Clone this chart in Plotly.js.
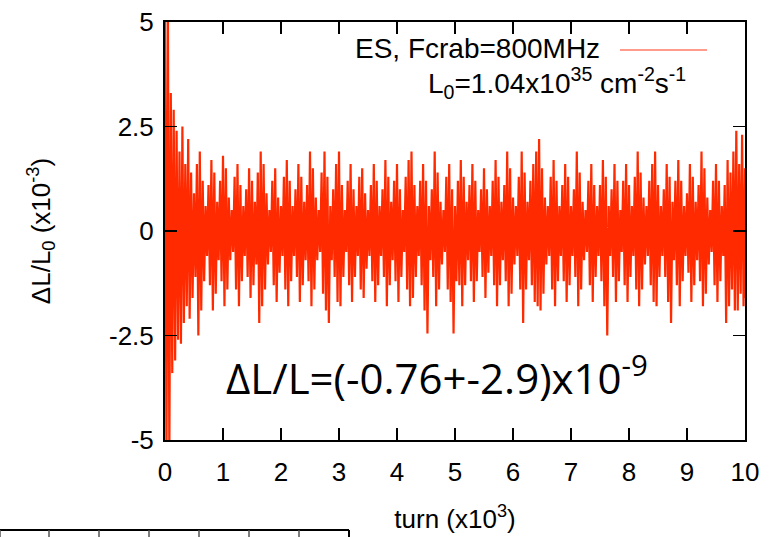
<!DOCTYPE html>
<html>
<head>
<meta charset="utf-8">
<script src="https://cdn.plot.ly/plotly-3.0.1.min.js"></script>
<style>html,body{margin:0;padding:0;background:#fff;}#chart{width:770px;height:537px;}</style>
</head>
<body>
<div id="chart"></div>
<script>
// turn index step (x10^3 turns)
const turnStep = 0.05;
// upper excursion of dL/L0 (x10^-3) in each 50-turn bin
const upperEnvelope = [
 5.6, 5.3, 3.3, 2.9, 2.4, 1.9, 2.5, 1.6, 2.2, 1.4,
 0.9, 1.6, 1.9, 1.2, 0.6, 1.1, 1.7, 1.4, 0.7, 1.2,
 1.8, 1.5, 0.8, 0.5, 1.3, 1.6, 1.1, 0.6, 1.0, 1.5,
 1.2, 0.7, 1.4, 1.9, 1.6, 0.9, 0.5, 1.2, 1.5, 0.8,
 0.6, 1.3, 1.7, 1.2, 0.6, 1.0, 1.6, 1.3, 0.7, 1.1,
 1.9, 1.5, 0.8, 0.5, 1.4, 1.9, 1.3, 0.6, 1.0, 1.6,
 1.9, 1.1, 0.5, 1.2, 1.6, 1.0, 0.6, 1.3, 1.5, 0.9,
 0.5, 1.1, 1.6, 1.2, 0.6, 1.0, 1.7, 1.3, 0.7, 1.2,
 1.6, 1.0, 0.5, 1.3, 1.7, 1.9, 1.1, 0.6, 1.2, 1.6,
 1.2, 0.6, 1.0, 1.9, 1.4, 0.7, 0.5, 1.3, 1.6, 1.0,
 0.6, 1.2, 1.7, 1.3, 0.7, 1.1, 1.6, 1.2, 0.5, 1.0,
 1.5, 1.0, 0.6, 1.2, 1.7, 1.3, 0.7, 1.1, 1.9, 1.5,
 0.8, 0.6, 1.3, 1.9, 1.4, 0.7, 1.2, 1.6, 1.9, 2.2,
 1.5, 0.8, 0.6, 1.3, 1.7, 1.2, 0.6, 1.1, 1.6, 1.3,
 0.6, 1.0, 1.9, 1.4, 0.7, 0.5, 1.2, 1.6, 1.1, 0.6,
 1.1, 1.7, 1.3, 0.6, 1.0, 1.6, 1.2, 0.5, 1.2, 1.6,
 1.1, 0.6, 1.3, 1.9, 1.4, 0.8, 0.6, 1.2, 1.6, 1.9,
 1.1, 0.6, 1.0, 1.6, 1.3, 0.7, 1.2, 1.7, 1.2, 0.6,
 0.9, 1.6, 1.3, 0.7, 1.1, 1.9, 1.5, 0.8, 0.5, 1.2,
 1.6, 1.2, 0.6, 1.1, 1.7, 1.4, 1.9, 2.4, 1.6, 2.3,
 1.5
];
// lower excursion of dL/L0 (x10^-3) in each 50-turn bin
const lowerEnvelope = [
 -5.6, -5.4, -3.4, -3.1, -2.6, -2.7, -2.2, -1.8, -2.1, -1.6,
 -1.1, -2.5, -1.9, -1.2, -0.6, -1.3, -1.9, -1.5, -0.7, -1.2,
 -1.8, -1.4, -0.7, -0.5, -1.4, -1.8, -1.2, -0.6, -1.1, -1.6,
 -1.3, -0.8, -2.2, -1.8, -1.4, -0.8, -0.5, -1.3, -1.7, -1.0,
 -0.6, -1.4, -1.8, -1.2, -0.6, -1.1, -1.7, -1.3, -0.7, -1.2,
 -1.8, -1.4, -0.7, -0.5, -1.5, -1.9, -2.2, -0.7, -1.1, -1.7,
 -1.8, -1.1, -0.5, -1.3, -1.7, -1.1, -0.6, -1.4, -1.6, -0.9,
 -0.6, -1.2, -1.7, -1.3, -0.6, -1.1, -1.8, -1.3, -0.7, -1.2,
 -1.7, -1.1, -0.5, -1.4, -1.8, -1.6, -1.1, -0.6, -1.3, -1.9,
 -2.45, -0.7, -1.1, -1.8, -1.4, -0.8, -0.5, -1.4, -1.7, -2.45,
 -1.2, -1.3, -1.8, -1.3, -0.7, -1.2, -1.7, -1.2, -0.5, -1.1,
 -1.6, -1.0, -0.6, -1.3, -1.8, -1.3, -0.7, -1.2, -1.8, -1.5,
 -0.8, -0.6, -1.4, -2.2, -1.4, -0.7, -1.3, -1.7, -1.8, -1.9,
 -1.5, -0.8, -0.6, -1.4, -1.8, -1.2, -0.6, -1.2, -1.7, -1.3,
 -0.6, -1.1, -1.8, -1.4, -0.7, -0.5, -1.3, -1.7, -1.1, -0.6,
 -1.2, -1.8, -2.5, -0.6, -1.1, -1.7, -1.2, -0.5, -1.3, -1.7,
 -1.1, -0.6, -1.4, -1.8, -1.4, -0.8, -0.6, -1.3, -1.7, -1.8,
 -1.1, -0.6, -1.1, -1.7, -2.2, -0.7, -1.3, -1.8, -1.2, -0.6,
 -1.0, -1.7, -1.3, -0.7, -1.2, -1.8, -1.5, -0.8, -0.5, -1.3,
 -1.7, -1.2, -0.6, -2.2, -1.8, -1.4, -1.9, -1.9, -1.5, -1.8,
 -1.6
];
const xTicks = [0,1,2,3,4,5,6,7,8,9,10];
const yTicks = [-5,-2.5,0,2.5,5];
const yTickText = ['-5','-2.5','0','2.5','5'];

const xs = [], ys = [];
for (let i = 0; i < upperEnvelope.length; i++) {
  xs.push(i*turnStep); ys.push(upperEnvelope[i]);
  xs.push(Math.min(10, i*turnStep + turnStep/2)); ys.push(lowerEnvelope[i]);
}

const red = '#ff2a00';
const F = 'Liberation Sans, Arial, sans-serif';
const L = 165, R = 25, T = 22, B = 97, W = 770, H = 537;
const pw = W - L - R, ph = H - T - B;
const px = v => (v - L) / pw;
const py = v => (H - B - v) / ph;

const shapes = [
  // legend key line
  {type:'line', xref:'paper', yref:'paper', x0:px(620), x1:px(707), y0:py(50), y1:py(50), line:{color:'#ff7a66', width:1.5}}
];
// fragment of neighbouring figure at bottom-left
shapes.push({type:'line', xref:'paper', yref:'paper', x0:px(0), x1:px(349), y0:py(530), y1:py(530), line:{color:'#000', width:2}});
[0,49,99,149,199,249,299].forEach(v => shapes.push({type:'line', xref:'paper', yref:'paper', x0:px(v), x1:px(v), y0:py(530), y1:py(540), line:{color:'#555', width:1.5}}));
shapes.push({type:'line', xref:'paper', yref:'paper', x0:px(349), x1:px(349), y0:py(530), y1:py(540), line:{color:'#000', width:2}});

const layout = {
  width: W, height: H,
  margin: {l:L, r:R, t:T, b:B},
  paper_bgcolor:'#fff', plot_bgcolor:'#fff',
  showlegend:false,
  font:{family:F, size:26, color:'#000'},
  xaxis:{
    range:[0,10], tickvals:xTicks, ticktext:xTicks.map(String),
    ticks:'inside', ticklen:12, tickwidth:1.5, tickcolor:'#000',
    showline:true, linecolor:'#000', linewidth:2, mirror:'ticks',
    showgrid:false, zeroline:false, ticklabelstandoff:8,
    tickfont:{family:F, size:26},
    title:{text:'turn (x10<sup>3</sup>)', font:{family:F, size:26}, standoff:24}
  },
  yaxis:{
    range:[-5,5], tickvals:yTicks, ticktext:yTickText,
    ticks:'inside', ticklen:12, tickwidth:1.5, tickcolor:'#000',
    showline:true, linecolor:'#000', linewidth:2, mirror:'ticks',
    showgrid:false, zeroline:false, ticklabelstandoff:4,
    tickfont:{family:F, size:26},
    title:{text:'ΔL/L<sub>0</sub> (x10<sup>-3</sup>)', font:{family:F, size:26}, standoff:51}
  },
  shapes: shapes,
  annotations:[
    {xref:'paper', yref:'paper', x:px(602), y:py(48), xanchor:'right', yanchor:'middle', showarrow:false,
     text:'ES, Fcrab=800MHz', font:{family:F, size:28}},
    {xref:'paper', yref:'paper', x:px(688), y:py(83), xanchor:'right', yanchor:'middle', showarrow:false,
     text:'L<sub>0</sub>=1.04x10<sup>35</sup> cm<sup>-2</sup>s<sup>-1</sup>', font:{family:F, size:28}},
    {xref:'paper', yref:'paper', x:px(437), y:py(375), xanchor:'center', yanchor:'middle', showarrow:false,
     text:'ΔL/L=(-0.76+-2.9)x10<sup>-9</sup>', font:{family:'Open Sans, sans-serif', size:42}}
  ]
};

Plotly.newPlot('chart', [{
  x: xs, y: ys, type:'scatter', mode:'lines',
  line:{color:red, width:2.2}, hoverinfo:'skip', name:'ES, Fcrab=800MHz'
}], layout, {staticPlot:true});
</script>
</body>
</html>
